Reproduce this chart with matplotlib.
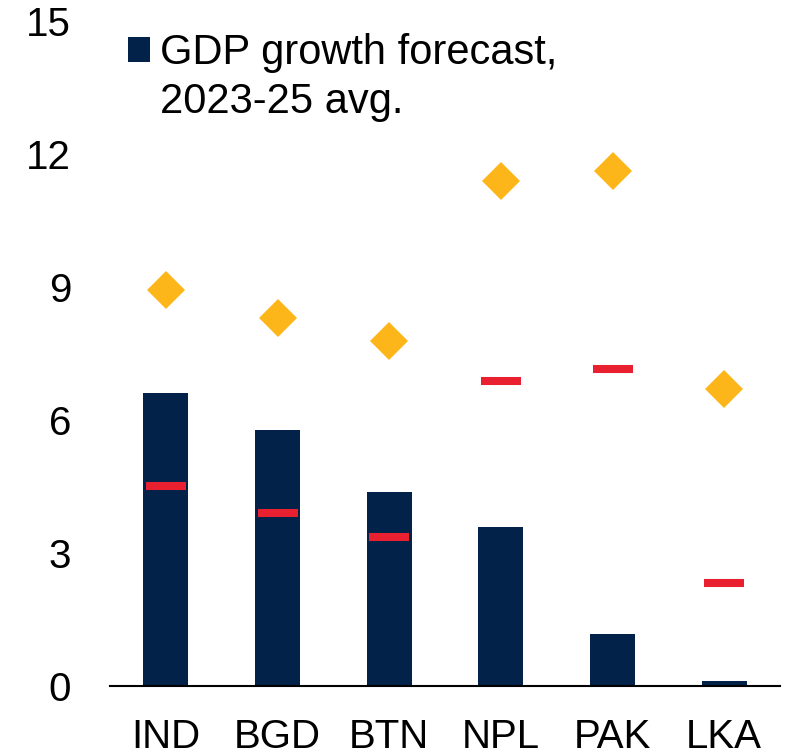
import matplotlib.pyplot as plt
import numpy as np

# values
countries = ["IND", "BGD", "BTN", "NPL", "PAK", "LKA"]
gdp_forecast = [6.61, 5.77, 4.38, 3.59, 1.17, 0.11]
red_dash = [4.51, 3.91, 3.36, 6.88, 7.16, 2.33]
diamond = [8.94, 8.31, 7.79, 11.40, 11.63, 6.70]
yticks = [0, 3, 6, 9, 12, 15]

navy = "#02224A"
red = "#E8202F"
gold = "#FDB61A"

plt.rcParams['font.family'] = ['Liberation Sans', 'DejaVu Sans']

fig = plt.figure(figsize=(7.95, 7.56), dpi=100)
ax = fig.add_axes([110/795, 70/756, 670/795, 664.5/756])

x = np.arange(len(countries))
ax.bar(x, gdp_forecast, width=0.4, color=navy, label="GDP growth forecast,", zorder=2)
ax.plot(x, red_dash, ls="none", marker="_", markersize=29, markeredgewidth=5.8, color=red, zorder=3)
ax.plot(x, diamond, ls="none", marker="D", markersize=19.5, color=gold, markeredgewidth=0, zorder=3)

ax.set_xlim(-0.5, len(countries) - 0.5)
ax.set_ylim(0, 15)
ax.set_yticks(yticks)
ax.set_xticks(x)
ax.set_xticklabels(countries)
ax.tick_params(axis="both", length=0, labelsize=29)
ax.tick_params(axis="y", pad=28)
ax.tick_params(axis="x", pad=23)

for s in ["top", "right", "left"]:
    ax.spines[s].set_visible(False)
ax.spines["bottom"].set_linewidth(1.5)
ax.spines["bottom"].set_color("black")

leg = ax.legend(loc="upper left", bbox_to_anchor=(128/795, 1 - 33/756), bbox_transform=fig.transFigure,
                frameon=False, fontsize=30, handlelength=0.53, handleheight=0.53, handletextpad=0.24,
                borderpad=0, borderaxespad=0)
fig.text(160/795, 1 - 113/756, "2023-25 avg.", fontsize=30, va="baseline", ha="left")

fig.savefig("out.png", dpi=100)
